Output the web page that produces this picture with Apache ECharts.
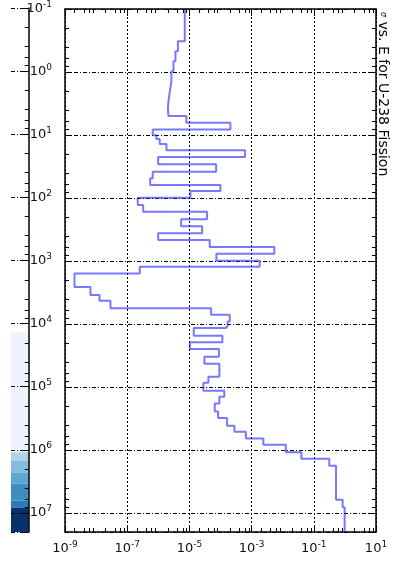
<!DOCTYPE html>
<html><head><meta charset="utf-8">
<script src="https://cdn.jsdelivr.net/npm/echarts@6/dist/echarts.min.js"></script>
<style>html,body{margin:0;padding:0;background:#fff}#c{width:398px;height:564px}</style>
</head><body><div id="c"></div>
<script>
// Energy group boundaries (eV), top (low E) to bottom (high E)
const energyBounds = [0.1, 0.325, 0.468, 0.675, 0.974, 1.40, 2.01, 2.90, 3.89, 5.01, 6.41, 8.15, 10.1, 11.6, 13.9, 17.5, 22.4, 29.2, 38.3, 48.7, 62.2, 77.5, 98.9, 129, 165, 218, 281, 363, 463, 598, 764, 986, 1228, 1585, 2576, 3447, 4287, 5598, 7145, 9125, 1.07e4, 1.16e4, 1.54e4, 1.95e4, 2.50e4, 3.31e4, 4.28e4, 6.87e4, 8.55e4, 1.15e5, 1.43e5, 1.82e5, 2.44e5, 3.10e5, 4.10e5, 5.11e5, 6.59e5, 8.21e5, 1.08e6, 1.38e6, 1.77e6, 6.18e6, 8.09e6, 2e7];
// Group cross sections (one per group)
const sigma = [7.1e-6, 4.28e-6, 3.56e-6, 3.07e-6, 2.64e-6, 2.36e-6, 2.12e-6, 2.04e-6, 2.12e-6, 8.0e-6, 2.08e-4, 6.62e-7, 8.7e-7, 1.11e-6, 1.83e-6, 6.17e-4, 9.9e-7, 7.23e-5, 6.62e-7, 5.47e-7, 9.93e-5, 1.08e-5, 2.18e-7, 3.26e-7, 3.71e-5, 5.42e-6, 2.56e-5, 9.9e-7, 4.50e-5, 5.40e-3, 7.38e-5, 1.82e-3, 2.54e-7, 2.02e-9, 6.59e-9, 1.29e-8, 2.90e-8, 4.99e-5, 1.98e-4, 1.70e-4, 1.47e-4, 1.38e-5, 1.15e-4, 1.04e-5, 8.89e-5, 3.04e-5, 9.22e-5, 4.08e-5, 2.82e-5, 1.33e-4, 9.22e-5, 6.52e-5, 8.37e-5, 1.63e-4, 2.80e-4, 6.55e-4, 2.39e-3, 1.26e-2, 3.98e-2, 0.315, 0.519, 0.845, 0.98];
// Neighbouring (cropped) panel strip: energy bands and their values
const stripBounds = [0.1, 1.38e4, 1.09e6, 1.47e6, 2.28e6, 3.41e6, 6.34e6, 8.2e6, 2e7];
const stripValues = [-0.1, 0.06, 0.33, 0.45, 0.55, 0.65, 0.72, 1.0];
// Axis decades and minor-tick multiples
const xDecades = [-9, -8, -7, -6, -5, -4, -3, -2, -1, 0];
const yDecades = [-1, 0, 1, 2, 3, 4, 5, 6, 7];
const minorSubs = [2, 4, 6, 8];
const titleText = 'σ vs. E for U-238 Fission';

const stepData = [];
for (let i = 0; i < sigma.length; i++) {
  stepData.push([sigma[i], energyBounds[i]]);
  stepData.push([sigma[i], energyBounds[i + 1]]);
}
const stripData = stripValues.map((v, i) => [stripBounds[i], stripBounds[i + 1], v]);
const xMinor = [], yMinor = [];
xDecades.forEach(d => minorSubs.forEach(m => xMinor.push([m * Math.pow(10, d), 0])));
yDecades.forEach(d => minorSubs.forEach(m => { const v = m * Math.pow(10, d); if (v < 2e7) yMinor.push([v, 1]); }));
const minorData = xMinor.concat(yMinor);
const MINLEN = 4;

const FONT = 'DejaVu Sans';
const supFmt = v => '{b|10}{s|' + Math.round(Math.log10(v)) + '}';
const labelRich = {
  b: { fontFamily: FONT, fontSize: 13, color: '#111', lineHeight: 18 },
  s: { fontFamily: FONT, fontSize: 9, color: '#111', verticalAlign: 'top', lineHeight: 18, padding: [0, 0, 6, 0] }
};
const hGrid = { show: true, lineStyle: { color: '#000', width: 1, type: [4, 2, 1, 2] } };
const vGrid = { show: true, lineStyle: { color: '#000', width: 1, type: [2, 2] } };
const axLine = { show: true, onZero: false, lineStyle: { color: '#000', width: 1.5 } };
const majTick = { show: true, inside: true, length: 7, lineStyle: { color: '#000', width: 1 } };

function minorRender(params, api) {
  const cs = params.coordSys;
  const st = { stroke: '#000', lineWidth: 1 };
  if (api.value(1) === 0) {
    const x = Math.round(api.coord([api.value(0), 1])[0]) + 0.5;
    return { type: 'group', children: [
      { type: 'line', shape: { x1: x, y1: cs.y + cs.height, x2: x, y2: cs.y + cs.height - MINLEN }, style: st },
      { type: 'line', shape: { x1: x, y1: cs.y, x2: x, y2: cs.y + MINLEN }, style: st }
    ] };
  }
  const y = Math.round(api.coord([1e-5, api.value(0)])[1]) + 0.5;
  return { type: 'group', children: [
    { type: 'line', shape: { x1: cs.x, y1: y, x2: cs.x + MINLEN, y2: y }, style: st },
    { type: 'line', shape: { x1: cs.x + cs.width, y1: y, x2: cs.x + cs.width - MINLEN, y2: y }, style: st }
  ] };
}
function stripMinorRender(params, api) {
  const cs = params.coordSys;
  const y = Math.round(api.coord([0.5, api.value(0)])[1]) + 0.5;
  return { type: 'line', shape: { x1: cs.x + cs.width, y1: y, x2: cs.x + cs.width - MINLEN, y2: y },
    style: { stroke: '#000', lineWidth: 1 } };
}

const chart = echarts.init(document.getElementById('c'), null, { renderer: 'canvas' });
chart.setOption({
  animation: false,
  backgroundColor: '#fff',
  grid: [
    { left: 65, right: 22, top: 8, bottom: 32 },
    { left: -60, width: 71, top: 8, bottom: 32 }
  ],
  visualMap: {
    show: false, type: 'continuous', min: -0.1, max: 1, dimension: 2, seriesIndex: 1,
    inRange: { color: ['#ffffff', '#f2f7fd', '#deebf7', '#c6dbef', '#9ecae1', '#6baed6', '#4292c6', '#2171b5', '#08519c', '#08306b'] }
  },
  xAxis: [
    { type: 'log', gridIndex: 0, min: 1e-9, max: 10, interval: 2, position: 'bottom',
      axisLine: axLine, axisTick: majTick, minorTick: { show: false }, splitLine: vGrid,
      axisLabel: { formatter: supFmt, rich: labelRich, margin: 8 } },
    { type: 'log', gridIndex: 0, min: 1e-9, max: 10, interval: 2, position: 'top',
      axisLine: axLine, axisTick: majTick, splitLine: { show: false },
      axisLabel: { show: false } },
    { type: 'value', gridIndex: 1, min: 0, max: 1, show: false }
  ],
  yAxis: [
    { type: 'log', gridIndex: 0, min: 0.1, max: 2e7, inverse: true, position: 'left',
      axisLine: axLine, axisTick: majTick, splitLine: hGrid,
      axisLabel: { formatter: supFmt, rich: labelRich, margin: 13, showMaxLabel: false } },
    { type: 'log', gridIndex: 0, min: 0.1, max: 2e7, inverse: true, position: 'right',
      axisLine: axLine, axisTick: majTick, splitLine: { show: false },
      axisLabel: { show: false } },
    { type: 'log', gridIndex: 1, min: 0.1, max: 2e7, inverse: true, position: 'right',
      axisLine: axLine, axisTick: majTick, splitLine: hGrid,
      axisLabel: { show: false } }
  ],
  series: [
    { type: 'line', xAxisIndex: 0, yAxisIndex: 0, data: stepData, showSymbol: false, symbol: 'none',
      lineStyle: { color: 'rgba(35,35,255,0.62)', width: 2 }, z: 5 },
    { type: 'custom', xAxisIndex: 2, yAxisIndex: 2, data: stripData, z: -1,
      renderItem: function (params, api) {
        const p0 = api.coord([0, api.value(0)]);
        const p1 = api.coord([1, api.value(1)]);
        return { type: 'rect',
          shape: { x: params.coordSys.x, y: Math.min(p0[1], p1[1]), width: params.coordSys.width, height: Math.abs(p1[1] - p0[1]) },
          style: { fill: api.visual('color') } };
      } },
    { type: 'custom', xAxisIndex: 0, yAxisIndex: 0, data: minorData, z: 3, silent: true,
      renderItem: minorRender },
    { type: 'custom', xAxisIndex: 2, yAxisIndex: 2, data: yMinor, z: 3, silent: true,
      renderItem: stripMinorRender }
  ],
  graphic: [
    { type: 'text', x: 376, y: 12, rotation: -Math.PI / 2,
      style: { text: '{g|σ}' + titleText.slice(1), fontFamily: FONT, fontSize: 14, fill: '#000',
        verticalAlign: 'bottom',
        rich: { g: { fontFamily: FONT, fontSize: 8, fontStyle: 'italic', fill: '#000' } } } }
  ]
});
</script></body></html>
